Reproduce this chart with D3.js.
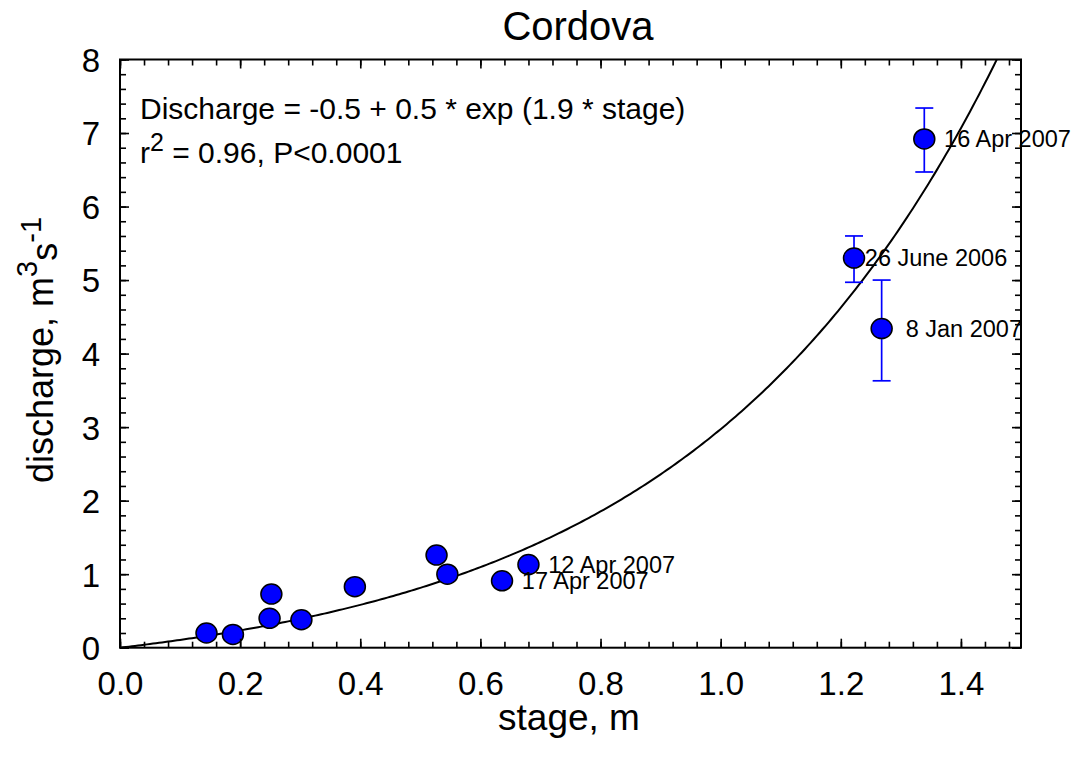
<!DOCTYPE html>
<html>
<head>
<meta charset="utf-8">
<script src="https://cdn.jsdelivr.net/npm/d3@7"></script>
<style>
  html, body { margin: 0; padding: 0; background: #fff; }
  svg { display: block; font-family: "Liberation Sans", Arial, sans-serif; }
</style>
</head>
<body>
<svg id="chart" width="1076" height="759"></svg>
<script>
// Stage-discharge measurements, Cordova
const stage     = [0.144, 0.188, 0.249, 0.252, 0.302, 0.391, 0.527, 0.545, 0.636, 0.680, 1.222, 1.268, 1.339];
const discharge = [0.20, 0.18, 0.40, 0.73, 0.38, 0.83, 1.26, 1.00, 0.91, 1.13, 5.30, 4.34, 6.92];

// Measurement uncertainty on the high-flow gaugings
const barStage = [1.222, 1.268, 1.339];
const barLow   = [4.97, 3.63, 6.47];
const barHigh  = [5.60, 5.00, 7.34];

// Dated gauging annotations (anchored in data units)
const labelText      = ["16 Apr 2007", "26 June 2006", "8 Jan 2007", "12 Apr 2007", "17 Apr 2007"];
const labelStage     = [1.372, 1.240, 1.308, 0.713, 0.669];
const labelDischarge = [6.92, 5.30, 4.34, 1.13, 0.91];

// Rating curve: Q = a + b * exp(c * stage)
const fitA = -0.493, fitB = 0.493, fitC = 1.95;

// Axis ticks
const xTicks = [0.0, 0.2, 0.4, 0.6, 0.8, 1.0, 1.2, 1.4];
const yTicks = [0, 1, 2, 3, 4, 5, 6, 7, 8];

const svg = d3.select("#chart");
const plotLeft = 120, plotRight = 1021, plotTop = 59.5, plotBottom = 647.7;

const x = d3.scaleLinear().domain([0, 1.5]).range([plotLeft, plotRight]);
const y = d3.scaleLinear().domain([0, 8]).range([plotBottom, plotTop]);

// Title
svg.append("text")
  .attr("x", 578).attr("y", 40)
  .attr("text-anchor", "middle")
  .attr("font-size", 40)
  .text("Cordova");

// Clip region for the fitted curve
svg.append("clipPath").attr("id", "plotClip")
  .append("rect").attr("x", plotLeft).attr("y", plotTop)
  .attr("width", plotRight - plotLeft).attr("height", plotBottom - plotTop);

// Fitted curve
const curvePts = d3.range(0, 1.5001, 0.005).map(s => [s, fitA + fitB * Math.exp(fitC * s)]);
svg.append("path")
  .datum(curvePts)
  .attr("clip-path", "url(#plotClip)")
  .attr("fill", "none")
  .attr("stroke", "#000")
  .attr("stroke-width", 2)
  .attr("d", d3.line().x(d => x(d[0])).y(d => y(d[1])));

// Error bars
const eb = svg.append("g").attr("stroke", "#0000ff").attr("stroke-width", 1.7).attr("fill", "none");
barStage.forEach((s, i) => {
  const cx = x(s);
  eb.append("line").attr("x1", cx).attr("x2", cx).attr("y1", y(barLow[i])).attr("y2", y(barHigh[i]));
  eb.append("line").attr("x1", cx - 9).attr("x2", cx + 9).attr("y1", y(barLow[i])).attr("y2", y(barLow[i]));
  eb.append("line").attr("x1", cx - 9).attr("x2", cx + 9).attr("y1", y(barHigh[i])).attr("y2", y(barHigh[i]));
});

// Points
svg.append("g").selectAll("ellipse")
  .data(stage.map((s, i) => [s, discharge[i]]))
  .join("ellipse")
  .attr("cx", d => x(d[0]))
  .attr("cy", d => y(d[1]))
  .attr("rx", 10.5)
  .attr("ry", 10)
  .attr("fill", "#0000ff")
  .attr("stroke", "#000")
  .attr("stroke-width", 1.5);

// Date labels
svg.append("g").selectAll("text")
  .data(labelText.map((t, i) => ({ t, s: labelStage[i], q: labelDischarge[i] })))
  .join("text")
  .attr("x", d => x(d.s))
  .attr("y", d => y(d.q))
  .attr("dy", "0.36em")
  .attr("font-size", 23.5)
  .text(d => d.t);

// Axes with inward ticks on all four sides
function styleAxis(g) {
  g.select(".domain").remove();
  g.selectAll(".tick line").attr("stroke", "#000").attr("stroke-width", 1.6);
  g.selectAll("text").attr("font-family", "Liberation Sans, Arial, sans-serif").attr("fill", "#000");
}
const xMinor = d3.range(0, 1.5001, 0.04).filter(v => v <= 1.5);
const yMinor = d3.range(0, 8.0001, 0.2);

svg.append("g").attr("transform", `translate(0,${plotBottom})`)
  .call(d3.axisBottom(x).tickValues(xMinor).tickSize(-6).tickFormat(""))
  .call(styleAxis);
svg.append("g").attr("transform", `translate(0,${plotBottom})`)
  .call(d3.axisBottom(x).tickValues(xTicks).tickSize(-9).tickPadding(24).tickFormat(d3.format(".1f")))
  .call(styleAxis)
  .call(g => g.selectAll("text").attr("font-size", 33));
svg.append("g").attr("transform", `translate(0,${plotTop})`)
  .call(d3.axisTop(x).tickValues(xMinor).tickSize(-6).tickFormat(""))
  .call(styleAxis);
svg.append("g").attr("transform", `translate(0,${plotTop})`)
  .call(d3.axisTop(x).tickValues(xTicks).tickSize(-9).tickFormat(""))
  .call(styleAxis);

svg.append("g").attr("transform", `translate(${plotLeft},0)`)
  .call(d3.axisLeft(y).tickValues(yMinor).tickSize(-6).tickFormat(""))
  .call(styleAxis);
svg.append("g").attr("transform", `translate(${plotLeft},0)`)
  .call(d3.axisLeft(y).tickValues(yTicks).tickSize(-9).tickPadding(20).tickFormat(d3.format("d")))
  .call(styleAxis)
  .call(g => g.selectAll("text").attr("font-size", 33).attr("dy", "0.36em"));
svg.append("g").attr("transform", `translate(${plotRight},0)`)
  .call(d3.axisRight(y).tickValues(yMinor).tickSize(-6).tickFormat(""))
  .call(styleAxis);
svg.append("g").attr("transform", `translate(${plotRight},0)`)
  .call(d3.axisRight(y).tickValues(yTicks).tickSize(-9).tickFormat(""))
  .call(styleAxis);

// Plot frame
svg.append("rect")
  .attr("x", plotLeft).attr("y", plotTop)
  .attr("width", plotRight - plotLeft).attr("height", plotBottom - plotTop)
  .attr("fill", "none").attr("stroke", "#000").attr("stroke-width", 2);

// Axis titles
svg.append("text")
  .attr("x", 569).attr("y", 730)
  .attr("text-anchor", "middle")
  .attr("font-size", 37)
  .text("stage, m");

const yTitle = svg.append("text")
  .attr("transform", "translate(53,350) rotate(-90)")
  .attr("text-anchor", "middle")
  .attr("font-size", 36);
yTitle.append("tspan").text("discharge, m");
yTitle.append("tspan").attr("font-size", 29).attr("dy", "-0.55em").text("3");
yTitle.append("tspan").attr("dy", "0.55em").text("s");
yTitle.append("tspan").attr("font-size", 29).attr("dy", "-0.55em").text("-1");

// Fit statistics
svg.append("text")
  .attr("x", 140).attr("y", 119)
  .attr("font-size", 30)
  .text("Discharge = -0.5 + 0.5 * exp (1.9 * stage)");
const stat = svg.append("text")
  .attr("x", 140).attr("y", 163)
  .attr("font-size", 30);
stat.append("tspan").text("r");
stat.append("tspan").attr("font-size", 25).attr("dy", "-0.5em").text("2");
stat.append("tspan").attr("dy", "0.42em").text(" = 0.96, P<0.0001");
</script>
</body>
</html>
